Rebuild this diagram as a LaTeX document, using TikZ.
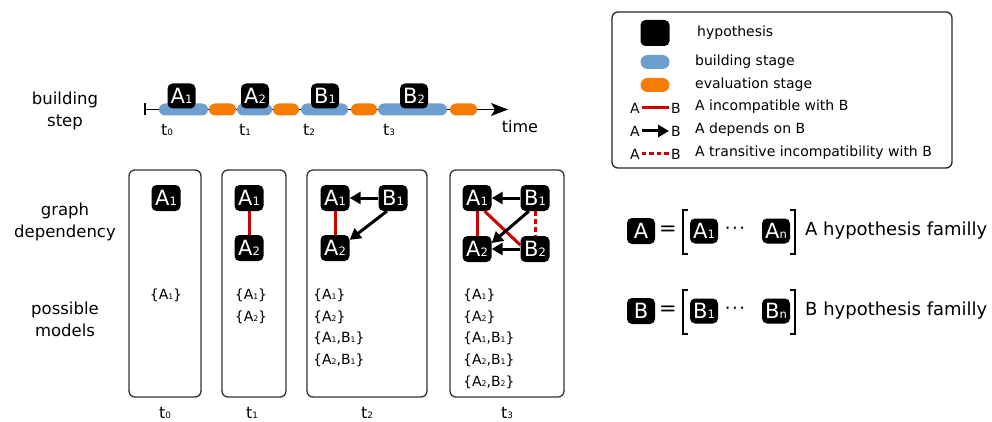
\documentclass[tikz,border=0pt]{standalone}
\usepackage{fontspec}
\setmainfont{DejaVu Sans}
\usepackage{graphicx}
\usetikzlibrary{arrows.meta}
\definecolor{bblue}{RGB}{108,158,207}
\definecolor{oorange}{RGB}{245,124,0}
\definecolor{rred}{RGB}{204,0,0}
\newcommand\lw[1]{\scalebox{0.55}{#1}}
\begin{document}
\begin{tikzpicture}[x=1pt,y=-1pt,
 hyp/.style={fill=black, rounded corners=5pt, text=white, inner sep=0pt, minimum width=29pt, minimum height=26pt, font=\fontsize{21}{21}\selectfont},
 hypsm/.style={hyp, minimum width=28pt, minimum height=25pt},
 pill/.style={rounded corners=6pt, inner sep=0pt, minimum height=12pt},
 bstage/.style={pill, fill=bblue},
 estage/.style={pill, fill=oorange},
 panel/.style={draw=black!80, line width=1.3pt, rounded corners=6pt, inner sep=0pt},
 inc/.style={draw=rred, line width=3pt},
 tinc/.style={inc, dash pattern=on 5pt off 3pt},
 dep/.style={draw=black, line width=3pt, -{Triangle[length=11pt,width=12pt]}},
 lbl/.style={font=\fontsize{16.5}{22}\selectfont, align=center},
 tl/.style={font=\fontsize{16}{18}\selectfont},
 leg/.style={font=\fontsize{14}{16}\selectfont, anchor=west, inner sep=0pt},
 legab/.style={font=\fontsize{14}{16}\selectfont, inner sep=2pt},
 mdl/.style={font=\fontsize{14}{16}\selectfont, inner sep=0pt},
 fam/.style={font=\fontsize{18}{20}\selectfont, anchor=west, inner sep=0pt},
 brk/.style={draw=black, line width=1.3pt},
 dots/.style={font=\fontsize{18}{18}\selectfont, inner sep=0pt}
]
\useasboundingbox (0,0) rectangle (992,422);

% left labels
\node[lbl] (lbuild) at (65,111) {building\\step};
\node[lbl] (lgraph) at (65,222) {graph\\dependency};
\node[lbl] (lmodels) at (65,319) {possible\\models};

% timeline
\coordinate (ts) at (145,109.5);
\coordinate (te) at (508,109.5);
\draw[line width=1.3pt, -{Stealth[length=17pt,width=13pt,inset=4pt]}] (ts) -- (te);
\draw[line width=1.3pt] ([yshift=6pt]ts) -- ([yshift=-6pt]ts);
\node[bstage, minimum width=49pt] (s1) at (183.5,109.5) {};
\node[estage, minimum width=27pt] (s2) at (222.5,109.5) {};
\node[bstage, minimum width=35pt] (s3) at (254.5,109.5) {};
\node[estage, minimum width=26pt] (s4) at (286,109.5) {};
\node[bstage, minimum width=47pt] (s5) at (324.5,109.5) {};
\node[estage, minimum width=26pt] (s6) at (364,109.5) {};
\node[bstage, minimum width=69pt] (s7) at (412.5,109.5) {};
\node[estage, minimum width=27pt] (s8) at (463.5,109.5) {};
\node[hypsm] (ta1) at (181.5,96) {A\lw{1}};
\node[hypsm] (ta2) at (255,96) {A\lw{2}};
\node[hypsm] (tb1) at (325,96) {B\lw{1}};
\node[hypsm] (tb2) at (414,96) {B\lw{2}};
\node[tl] (tt0) at (167,130) {t\lw{0}};
\node[tl] (tt1) at (245,130) {t\lw{1}};
\node[tl] (tt2) at (309,130) {t\lw{2}};
\node[tl] (tt3) at (389,130) {t\lw{3}};
\node[tl] (ttime) at (520,127) {time};

% panels
\node[panel, minimum width=72pt, minimum height=227pt] (p0) at (165,283.5) {};
\node[panel, minimum width=64pt, minimum height=227pt] (p1) at (254,283.5) {};
\node[panel, minimum width=120pt, minimum height=227pt] (p2) at (367,283.5) {};
\node[panel, minimum width=114pt, minimum height=227pt] (p3) at (507,283.5) {};

% panel 0
\node[hyp] (c0a1) at (166,198) {A\lw{1}};
% panel 1
\node[hyp] (c1a1) at (249,198) {A\lw{1}};
\node[hyp] (c1a2) at (249,248) {A\lw{2}};
\draw[inc] (c1a1) -- (c1a2);
% panel 2
\node[hyp] (c2a1) at (335,198) {A\lw{1}};
\node[hyp] (c2b1) at (393,198) {B\lw{1}};
\node[hyp] (c2a2) at (335,248) {A\lw{2}};
\draw[inc] (c2a1) -- (c2a2);
\draw[dep] (c2b1) -- (c2a1);
\draw[dep] (c2b1.-115) -- (c2a2.29);
% panel 3
\node[hyp] (c3a1) at (477,198) {A\lw{1}};
\node[hyp] (c3b1) at (535,198) {B\lw{1}};
\node[hyp] (c3a2) at (477,249) {A\lw{2}};
\node[hyp] (c3b2) at (535,249) {B\lw{2}};
\draw[inc] (c3a1) -- (c3a2);
\draw[inc] (c3a1.-60) -- (c3b2.165);
\draw[tinc] (c3b1) -- (c3b2);
\draw[dep] (c3b1) -- (c3a1);
\draw[dep] (c3b2) -- (c3a2);
\draw[dep] (c3b1.-115) -- (c3a2.22);

% models
\node[mdl] (m0a) at (166,295) {\{A\lw{1}\}};
\node[mdl] (m1a) at (251,295) {\{A\lw{1}\}};
\node[mdl] (m1b) at (251,317) {\{A\lw{2}\}};
\node[mdl, anchor=west] (m2a) at (313,295) {\{A\lw{1}\}};
\node[mdl, anchor=west] (m2b) at (313,317) {\{A\lw{2}\}};
\node[mdl, anchor=west] (m2c) at (313,338) {\{A\lw{1},B\lw{1}\}};
\node[mdl, anchor=west] (m2d) at (313,360) {\{A\lw{2},B\lw{1}\}};
\node[mdl, anchor=west] (m3a) at (463,295) {\{A\lw{1}\}};
\node[mdl, anchor=west] (m3b) at (463,317) {\{A\lw{2}\}};
\node[mdl, anchor=west] (m3c) at (463,338) {\{A\lw{1},B\lw{1}\}};
\node[mdl, anchor=west] (m3d) at (463,360) {\{A\lw{2},B\lw{1}\}};
\node[mdl, anchor=west] (m3e) at (463,382) {\{A\lw{2},B\lw{2}\}};

% bottom times
\node[tl] (bt0) at (165,413) {t\lw{0}};
\node[tl] (bt1) at (252,413) {t\lw{1}};
\node[tl] (bt2) at (367,413) {t\lw{2}};
\node[tl] (bt3) at (507,413) {t\lw{3}};

% legend
\node[draw=black!85, line width=1.3pt, rounded corners=6pt, minimum width=340pt, minimum height=156pt, inner sep=0pt] (legend) at (782,90) {};
\node[hyp] (lhyp) at (655,33) {};
\node[leg] (lt1) at (697,33) {hypothesis};
\node[bstage, minimum width=29pt, minimum height=14pt, rounded corners=7pt] (lbs) at (655,62) {};
\node[leg] (lt2) at (695,62) {building stage};
\node[estage, minimum width=29pt, minimum height=14pt, rounded corners=7pt] (les) at (655,85) {};
\node[leg] (lt3) at (695,85) {evaluation stage};
\node[legab] (la1) at (635,108) {A};
\node[legab] (lb1) at (676,108) {B};
\draw[inc] (la1) -- (lb1);
\node[leg] (lt4) at (695,107) {A incompatible with B};
\node[legab] (la2) at (635,131) {A};
\node[legab] (lb2) at (676,131) {B};
\draw[dep] (la2) -- (lb2);
\node[leg] (lt5) at (695,130) {A depends on B};
\node[legab] (la3) at (635,154) {A};
\node[legab] (lb3) at (676,154) {B};
\draw[tinc, dash pattern=on 4.5pt off 3pt] (la3) -- (lb3);
\node[leg] (lt6) at (695,153) {A transitive incompatibility with B};

% families
\node[hyp, minimum width=28pt, minimum height=26pt, font=\fontsize{21}{21}\selectfont] (fa) at (641,231) {A};
\node[font=\fontsize{21}{21}\selectfont, inner sep=0pt] (eqa) at (668,231) {=};
\draw[brk] (688,210) -- (683,210) -- (683,254) -- (688,254);
\node[hypsm] (fa1) at (704,231) {A\lw{1}};
\node[dots] (dota) at (735,231) {·\hspace{1.5pt}·\hspace{1.5pt}·};
\node[hypsm] (fan) at (776,231) {A\lw{n}};
\draw[brk] (790,210) -- (795,210) -- (795,254) -- (790,254);
\node[fam] (txa) at (805,231) {A hypothesis familly};

\node[hyp, minimum width=28pt, minimum height=26pt, font=\fontsize{21}{21}\selectfont] (fb) at (641,311) {B};
\node[font=\fontsize{21}{21}\selectfont, inner sep=0pt] (eqb) at (668,311) {=};
\draw[brk] (688,290) -- (683,290) -- (683,334) -- (688,334);
\node[hypsm] (fb1) at (704,311) {B\lw{1}};
\node[dots] (dotb) at (735,311) {·\hspace{1.5pt}·\hspace{1.5pt}·};
\node[hypsm] (fbn) at (776,311) {B\lw{n}};
\draw[brk] (790,290) -- (795,290) -- (795,334) -- (790,334);
\node[fam] (txb) at (805,311) {B hypothesis familly};
\end{tikzpicture}
\end{document}
